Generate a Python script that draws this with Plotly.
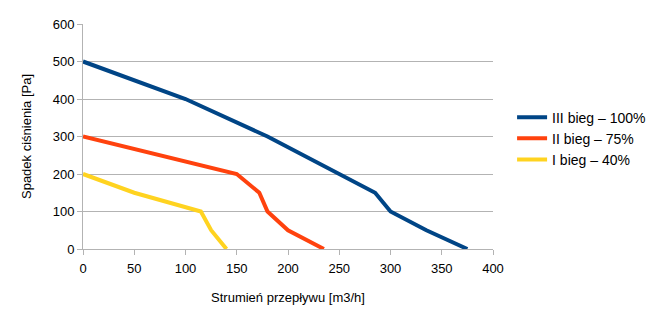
import plotly.graph_objects as go

x_iii = [0, 50, 100, 180, 285, 300, 335, 375]
y_iii = [500, 450, 400, 300, 150, 100, 50, 0]
x_ii = [0, 150, 172, 180, 200, 235]
y_ii = [300, 200, 150, 100, 50, 0]
x_i = [0, 50, 115, 125, 140]
y_i = [200, 150, 100, 50, 0]

names = ["III bieg – 100%", "II bieg – 75%", "I bieg – 40%"]
colors = ["#004586", "#ff420e", "#ffd320"]

fig = go.Figure()
for xs, ys, n, c in zip([x_iii, x_ii, x_i], [y_iii, y_ii, y_i], names, colors):
    fig.add_trace(go.Scatter(x=xs, y=ys, mode="lines", name=n,
                             line=dict(color=c, width=4)))

ff = "Liberation Sans, Arial, sans-serif"
fig.update_layout(
    width=654, height=326,
    margin=dict(l=83, r=161, t=24, b=77, autoexpand=False),
    paper_bgcolor="white", plot_bgcolor="white",
    font=dict(family=ff, size=13, color="#000000"),
    showlegend=True,
    legend=dict(xref="container", yref="container",
                x=0.783, y=0.575, xanchor="left", yanchor="middle",
                font=dict(family=ff, size=14, color="#000"),
                tracegroupgap=0, itemwidth=30, bgcolor="rgba(0,0,0,0)"),
    xaxis=dict(range=[0, 400], tickvals=list(range(0, 401, 50)),
               showgrid=False, zeroline=False,
               showline=True, linecolor="#b3b3b3", linewidth=1,
               ticks="outside", ticklen=5, tickcolor="#b3b3b3",
               ticklabelstandoff=2,
               title=dict(text="Strumień przepływu [m3/h]", standoff=18,
                          font=dict(size=13)),
               tickfont=dict(size=13)),
    yaxis=dict(range=[0, 600], tickvals=list(range(0, 601, 100)),
               showgrid=True, gridcolor="#b3b3b3", gridwidth=1,
               zeroline=False,
               showline=True, linecolor="#b3b3b3", linewidth=1,
               ticks="outside", ticklen=5, tickcolor="#b3b3b3",
               title=dict(text="Spadek ciśnienia [Pa]", standoff=18,
                          font=dict(size=13)),
               tickfont=dict(size=13)),
)

fig.write_html("out.html")
